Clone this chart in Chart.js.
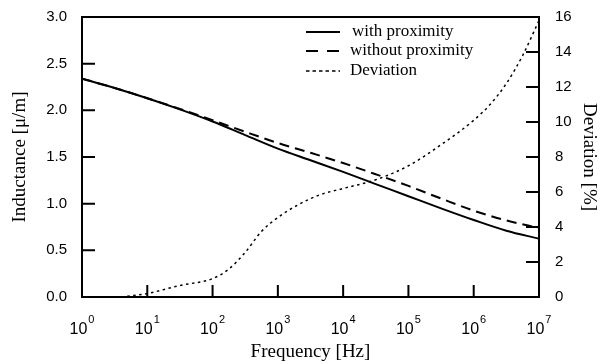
<!DOCTYPE html>
<html>
<head>
<meta charset="utf-8">
<script src="https://cdn.jsdelivr.net/npm/chart.js@4/dist/chart.umd.min.js"></script>
<style>
body { margin: 0; background: #fff; }
#wrap { width: 602px; height: 364px; }
</style>
</head>
<body>
<div id="wrap"><canvas id="myChart"></canvas></div>
<script>
// inductance curves (left axis)
const freqL = [1, 3.16, 10, 31.6, 100, 316, 1000, 3160, 1e4, 3.16e4, 1e5, 3.16e5, 1e6, 3.16e6, 1e7];
const withProx = [2.34, 2.24, 2.13, 2.01, 1.88, 1.735, 1.59, 1.465, 1.34, 1.21, 1.08, 0.95, 0.825, 0.71, 0.625];
const withoutProx = [2.34, 2.24, 2.13, 2.015, 1.895, 1.77, 1.65, 1.545, 1.435, 1.315, 1.19, 1.055, 0.925, 0.82, 0.74];

// deviation curve (right axis)
const freqD = [4, 10, 31.6, 100, 178, 316, 562, 1000, 2000, 4470, 1e4, 3.16e4, 1e5, 3.16e5, 1e6, 1.78e6, 3.16e6, 5.62e6, 1e7];
const deviation = [0, 0.2, 0.66, 1.05, 1.6, 2.55, 3.75, 4.54, 5.25, 5.85, 6.2, 6.7, 7.5, 8.7, 10.1, 11.0, 12.2, 13.8, 15.8];

const xTicks = [1, 10, 100, 1000, 1e4, 1e5, 1e6, 1e7];
const xExp = ['0', '1', '2', '3', '4', '5', '6', '7'];
const leftTicks = [0, 0.5, 1.0, 1.5, 2.0, 2.5, 3.0];
const rightTicks = [0, 2, 4, 6, 8, 10, 12, 14, 16];
const seriesNames = ['with proximity', 'without proximity', 'Deviation'];

const sans = 'Liberation Sans, Arial, sans-serif';
const serif = 'Liberation Serif, Times New Roman, serif';

function pts(xs, ys) {
    return xs.map((x, i) => ({ x: x, y: ys[i] }));
}

// frame, inward ticks, x labels with exponents, legend
const decor = {
    id: 'decor',
    afterDraw(chart) {
        const ctx = chart.ctx;
        const a = chart.chartArea;
        const sx = chart.scales.x, sl = chart.scales.yL, sr = chart.scales.yR;
        ctx.save();
        ctx.strokeStyle = '#000';
        ctx.lineWidth = 2;
        ctx.setLineDash([]);
        ctx.strokeRect(a.left, a.top, a.right - a.left, a.bottom - a.top);

        ctx.beginPath();
        leftTicks.forEach(v => {
            const y = sl.getPixelForValue(v);
            ctx.moveTo(a.left, y); ctx.lineTo(a.left + 13, y);
        });
        rightTicks.forEach(v => {
            const y = sr.getPixelForValue(v);
            ctx.moveTo(a.right, y); ctx.lineTo(a.right - 13, y);
        });
        xTicks.forEach(v => {
            const x = sx.getPixelForValue(v);
            ctx.moveTo(x, a.bottom); ctx.lineTo(x, a.bottom - 12);
        });
        ctx.stroke();

        ctx.fillStyle = '#000';
        ctx.textBaseline = 'alphabetic';
        ctx.textAlign = 'left';
        xTicks.forEach((v, i) => {
            const x = sx.getPixelForValue(v);
            ctx.font = '16px ' + sans;
            const w1 = ctx.measureText('10').width;
            ctx.font = '11px ' + sans;
            const w2 = ctx.measureText(xExp[i]).width;
            const x0 = x - (w1 + w2 + 1) / 2;
            ctx.font = '16px ' + sans;
            ctx.fillText('10', x0, 334);
            ctx.font = '11px ' + sans;
            ctx.fillText(xExp[i], x0 + w1 + 1, 323);
        });

        // legend
        const rows = [32, 51, 71];
        chart.data.datasets.forEach((ds, i) => {
            ctx.beginPath();
            ctx.lineWidth = ds.borderWidth;
            ctx.setLineDash(i === 1 ? [12, 9] : (i === 2 ? [3.5, 3] : []));
            ctx.moveTo(306, rows[i]);
            ctx.lineTo(340, rows[i]);
            ctx.stroke();
            ctx.setLineDash([]);
            ctx.font = '17px ' + serif;
            ctx.textBaseline = 'middle';
            ctx.fillText(ds.label, i === 0 ? 352 : 350, rows[i]);
        });
        ctx.restore();
    }
};

const data = {
    datasets: [{
        label: seriesNames[0],
        data: pts(freqL, withProx),
        yAxisID: 'yL',
        borderColor: '#000',
        borderWidth: 2,
        pointRadius: 0,
        cubicInterpolationMode: 'monotone'
    }, {
        label: seriesNames[1],
        data: pts(freqL, withoutProx),
        yAxisID: 'yL',
        borderColor: '#000',
        borderWidth: 2,
        borderDash: [10, 6],
        pointRadius: 0,
        cubicInterpolationMode: 'monotone'
    }, {
        label: seriesNames[2],
        data: pts(freqD, deviation),
        yAxisID: 'yR',
        borderColor: '#000',
        borderWidth: 1.5,
        borderDash: [2.5, 3.5],
        pointRadius: 0,
        cubicInterpolationMode: 'monotone'
    }]
};

const config = {
    type: 'line',
    data: data,
    options: {
        responsive: true,
        maintainAspectRatio: false,
        animation: false,
        devicePixelRatio: 1,
        layout: { padding: { top: 14 } },
        plugins: { legend: { display: false }, tooltip: { enabled: false } },
        scales: {
            x: {
                type: 'logarithmic',
                min: 1,
                max: 1e7,
                afterBuildTicks: s => { s.ticks = xTicks.map(v => ({ value: v })); },
                afterFit: s => { s.height = 67; },
                grid: { display: false },
                border: { display: false },
                ticks: { display: false },
                title: {
                    display: true,
                    text: 'Frequency [Hz]',
                    color: '#000',
                    font: { family: serif, size: 19 },
                    padding: { top: 0, bottom: 1 }
                }
            },
            yL: {
                position: 'left',
                min: 0,
                max: 3,
                afterBuildTicks: s => { s.ticks = leftTicks.map(v => ({ value: v })); },
                afterFit: s => { s.width = 82; },
                grid: { display: false },
                border: { display: false },
                ticks: {
                    color: '#000',
                    padding: 7,
                    font: { family: sans, size: 15 },
                    callback: v => v.toFixed(1)
                },
                title: {
                    display: true,
                    text: 'Inductance [μ/m]',
                    color: '#000',
                    font: { family: serif, size: 19 },
                    padding: { top: 9, bottom: 0 }
                }
            },
            yR: {
                position: 'right',
                min: 0,
                max: 16,
                afterBuildTicks: s => { s.ticks = rightTicks.map(v => ({ value: v })); },
                afterFit: s => { s.width = 63; },
                grid: { display: false },
                border: { display: false },
                ticks: {
                    color: '#000',
                    padding: 8,
                    font: { family: sans, size: 15 }
                },
                title: {
                    display: true,
                    text: 'Deviation [%]',
                    color: '#000',
                    font: { family: serif, size: 19 },
                    padding: { top: 2, bottom: 0 }
                }
            }
        }
    },
    plugins: [decor]
};

const myChart = new Chart(document.getElementById('myChart'), config);
</script>
</body>
</html>
